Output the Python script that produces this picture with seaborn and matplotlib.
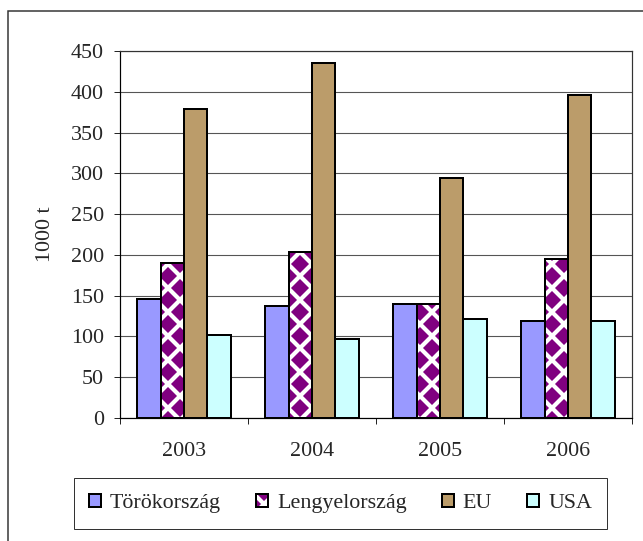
import matplotlib
matplotlib.use('Agg')
import numpy as np
import pandas as pd
import matplotlib.pyplot as plt
import seaborn as sns
from matplotlib.patches import Rectangle, Patch

# Data
years = ['2003', '2004', '2005', '2006']
series = ['Törökország', 'Lengyelország', 'EU', 'USA']
torok = [146, 137, 140, 119]
lengyel = [190, 203, 140, 195]
eu = [379, 435, 294, 396]
usa = [102, 97, 122, 119]
colors = ['#9999FF', '#800080', '#BB9C6A', '#CCFFFF']

df = pd.DataFrame({
    'ev': years * 4,
    'orszag': np.repeat(series, len(years)),
    'ertek': torok + lengyel + eu + usa,
})

sns.set_style('white')
plt.rcParams['font.family'] = ['Liberation Serif', 'DejaVu Serif']
plt.rcParams['hatch.linewidth'] = 4.2
FS = 22

fig = plt.figure(figsize=(643 / 72, 541 / 72), dpi=72)
ax = fig.add_axes([120 / 643, 1 - 418 / 541, 512 / 643, 367 / 541])

sns.barplot(data=df, x='ev', y='ertek', hue='orszag', palette=colors,
            width=0.73, edgecolor='black', linewidth=2, saturation=1,
            ax=ax, legend=False)

# diamond pattern for Lengyelország: purple fill + white hatch, black outline on top
for p in ax.containers[1]:
    ax.add_patch(Rectangle(p.get_xy(), p.get_width(), p.get_height(), fill=False,
                           edgecolor='black', lw=2, zorder=p.get_zorder() + 0.1))
    p.set_facecolor('#800080')
    p.set_edgecolor('white')
    p.set_hatch('x')
    p.set_linewidth(0)

ax.set_ylim(0, 450)
ax.set_yticks(range(0, 451, 50))
ax.set_xlim(-0.5, 3.5)
ax.set_xticks([-0.5, 0.5, 1.5, 2.5, 3.5], minor=True)
ax.yaxis.grid(True, color='#555555', lw=1.1)
ax.set_axisbelow(True)
ax.tick_params(axis='y', direction='out', length=6, width=1, labelsize=FS, pad=10, left=True)
ax.tick_params(axis='x', which='major', length=0, labelsize=FS, pad=24)
ax.tick_params(axis='x', which='minor', direction='out', length=6, width=1, bottom=True)
ax.set_xlabel('')
ax.set_ylabel('1000 t', fontsize=FS, labelpad=16)
for s in ['left', 'bottom']:
    ax.spines[s].set_color('black')
    ax.spines[s].set_linewidth(1.2)
for s in ['top', 'right']:
    ax.spines[s].set_color('#333333')
    ax.spines[s].set_linewidth(1.2)

# outer chart border
fig.add_artist(Rectangle((8 / 643, -0.1), 1.2, 1 - 10.5 / 541 + 0.1, transform=fig.transFigure,
                         fill=False, edgecolor='#333333', lw=1.5))

handles = [
    Patch(facecolor=colors[0], edgecolor='black', lw=2),
    (Patch(facecolor='#800080', edgecolor='white', hatch='x', lw=0),
     Patch(fill=False, edgecolor='black', lw=2)),
    Patch(facecolor=colors[2], edgecolor='black', lw=2),
    Patch(facecolor=colors[3], edgecolor='black', lw=2),
]
leg = fig.legend(handles, series, loc='center', bbox_to_anchor=(340.5 / 643, 1 - 503.5 / 541),
                 ncol=4, frameon=True, fancybox=False, edgecolor='black', fontsize=FS,
                 handlelength=0.55, handleheight=0.55, handletextpad=0.4, columnspacing=1.6,
                 borderpad=0.7)
leg.get_frame().set_linewidth(1)

fig.savefig('out.png', dpi=72)
